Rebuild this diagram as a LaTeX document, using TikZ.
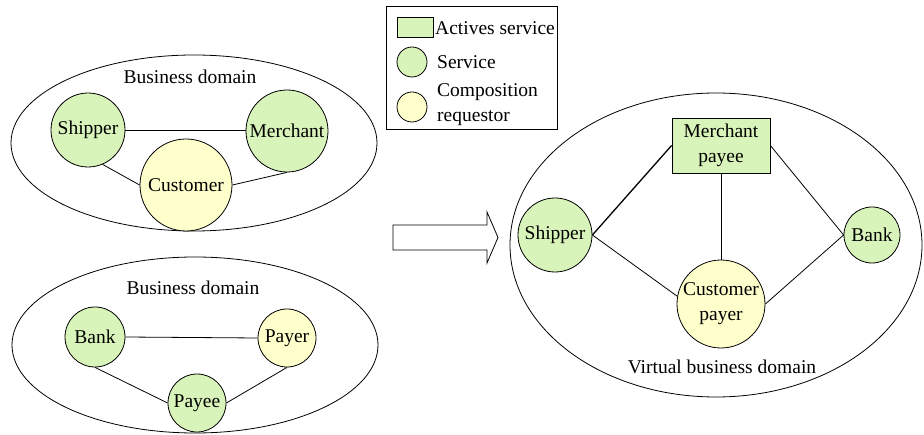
\documentclass[tikz,border=0pt]{standalone}
\usepackage{fontspec}
\setmainfont{Liberation Serif}
\newfontfamily\tms{Liberation Serif}
\definecolor{svcgreen}{HTML}{D8F4BA}
\definecolor{reqyellow}{HTML}{FFFFCC}
\begin{document}
\begin{tikzpicture}[x=1pt,y=-1pt,
  every node/.style={font=\tms\fontsize{19.5}{25}\selectfont, inner sep=0pt},
  svc/.style={circle, draw, fill=svcgreen, line width=0.8pt},
  req/.style={circle, draw, fill=reqyellow, line width=0.8pt},
  actbox/.style={rectangle, draw, fill=svcgreen, line width=0.8pt},
  link/.style={line width=0.8pt},
  lbl/.style={align=center}]
\useasboundingbox (0,0) rectangle (924,435);
\fill[white] (0,0) rectangle (924,435);

% legend
\node[draw, line width=0.8pt, minimum width=171pt, minimum height=123pt, anchor=north west] (legend) at (386,6) {};
\node[actbox, minimum width=36pt, minimum height=20pt] (lrect) at (415,27) {};
\node[anchor=west] (lrectt) at (435,28) {Actives service};
\node[svc, minimum size=30pt] (lsvc) at (412,62) {};
\node[anchor=west] (lsvct) at (437,62) {Service};
\node[req, minimum size=30pt] (lreq) at (412,107) {};
\node[anchor=west, align=left] (lreqt) at (437,105) {Composition\\requestor};

% top-left domain
\draw[link] (194,143) ellipse [x radius=183, y radius=88];
\node (bd1) at (190,77) {Business domain};
\node[svc, minimum size=74pt] (ship1) at (88,130) {Shipper};
\node[svc, minimum size=82pt] (merch1) at (287,131) {Merchant};
\node[req, minimum size=92pt] (cust1) at (186,185) {Customer};
\draw[link] (ship1.east) -- (ship1.east -| merch1.west);
\draw[link] (ship1.-67) -- (cust1.west);
\draw[link] (cust1.east) -- (merch1.south);

% bottom-left domain
\draw[link] (195,345) ellipse [x radius=183, y radius=88];
\node (bd2) at (193,288) {Business domain};
\node[svc, minimum size=60pt] (bank1) at (95,337) {Bank};
\node[req, minimum size=58pt] (payer1) at (287,338) {Payer};
\node[svc, minimum size=58pt] (payee1) at (197,403) {Payee};
\draw[link] (bank1.east) -- (payer1.west);
\draw[link] (bank1.south) -- (payee1.west);
\draw[link] (payee1.east) -- (payer1.south);

% big arrow
\draw[line width=0.8pt, fill=white] (393,225) -- (487,225) -- (487,212) -- (498,237.5) -- (487,263) -- (487,250) -- (393,250) -- cycle;

% right virtual domain
\draw[link] (716,245) ellipse [x radius=206, y radius=152];
\node[actbox, minimum width=98pt, minimum height=55pt, lbl] (mp) at (721,145.5) {Merchant\\payee};
\node[svc, minimum size=74pt] (ship2) at (555,235) {Shipper};
\node[svc, minimum size=56pt] (bank2) at (872,235) {Bank};
\node[req, minimum size=88pt, lbl] (cp) at (721,304) {Customer\\payer};
\node (vbd) at (722,367) {Virtual business domain};
\draw[line width=1.3pt] (ship2.east) -- (mp.west);
\draw[link] (ship2.east) -- (cp.170);
\draw[link] (mp.south) -- (cp.north);
\draw[link] (mp.east) -- (bank2.west);
\draw[link] (cp.east) -- (bank2.west);
\end{tikzpicture}
\end{document}
